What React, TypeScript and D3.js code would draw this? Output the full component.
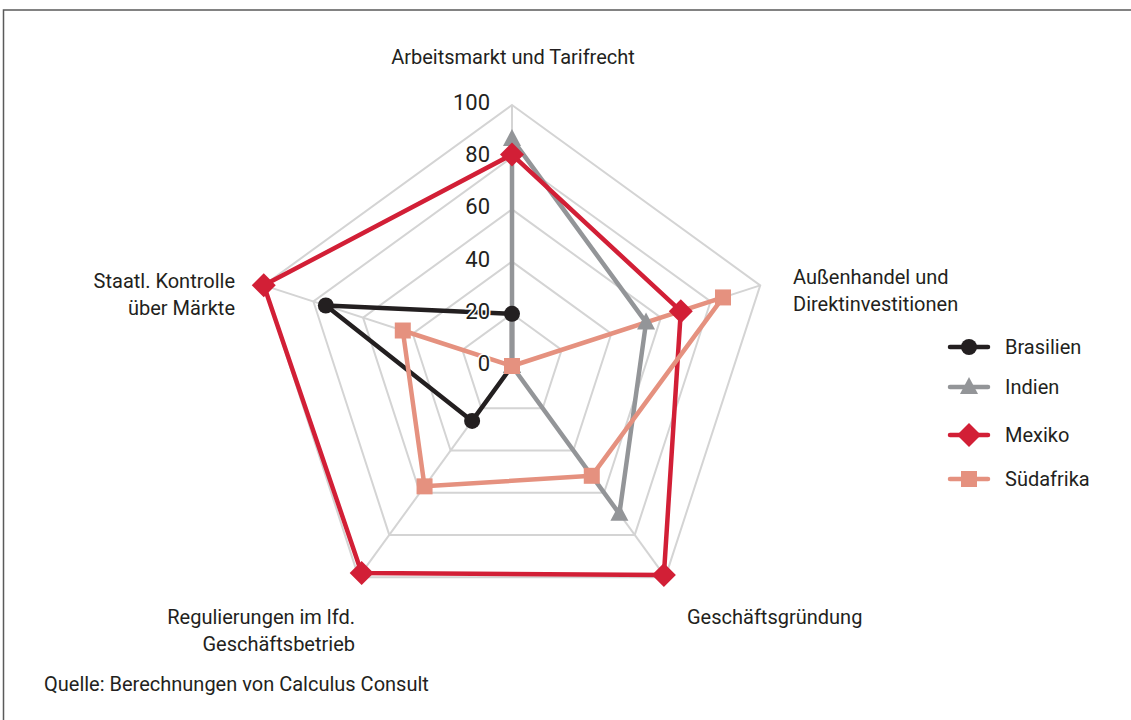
import React from 'react';
import * as d3 from 'd3';

const axes: string[][] = [
  ['Arbeitsmarkt und Tarifrecht'],
  ['Außenhandel und', 'Direktinvestitionen'],
  ['Geschäftsgründung'],
  ['Regulierungen im lfd.', 'Geschäftsbetrieb'],
  ['Staatl. Kontrolle', 'über Märkte'],
];

const seriesNames = ['Brasilien', 'Indien', 'Mexiko', 'Südafrika'];
const brasilien = [20, 0, 0, 26, 75];
const indien = [87, 54, 70, 0, 0];
const mexiko = [81, 68, 99, 98, 100];
const suedafrika = [0, 85, 52, 57, 44];
const ticks = [0, 20, 40, 60, 80, 100];

const colors = ['#231f20', '#939598', '#d21f36', '#e5917f'];
const shapes = ['circle', 'triangle', 'diamond', 'square'];

const W = 1131;
const H = 720;
const cx = 512;
const cy = 366;
const R = 261;
const FONT = 'Roboto, "Liberation Sans", sans-serif';

const r = d3.scaleLinear().domain([0, 100]).range([0, R]);
const angle = d3.scalePoint<number>().domain(d3.range(axes.length)).range([0, (2 * Math.PI * (axes.length - 1)) / axes.length]);

const pt = (i: number, v: number): [number, number] => {
  const a = angle(i)!;
  return [cx + r(v) * Math.sin(a), cy - r(v) * Math.cos(a)];
};

const Marker: React.FC<{ shape: string; x: number; y: number; color: string }> = ({ shape, x, y, color }) => {
  if (shape === 'circle') return <circle cx={x} cy={y} r={8} fill={color} />;
  if (shape === 'square') return <rect x={x - 8} y={y - 8} width={16} height={16} fill={color} />;
  if (shape === 'diamond')
    return <path d={`M${x},${y - 12}L${x + 12},${y}L${x},${y + 12}L${x - 12},${y}Z`} fill={color} />;
  return <path d={`M${x},${y - 10}L${x + 9},${y + 7}L${x - 9},${y + 7}Z`} fill={color} />;
};

const App: React.FC = () => {
  const data = [brasilien, indien, mexiko, suedafrika];
  const radial = d3
    .lineRadial<number>()
    .angle((_, i) => angle(i)!)
    .radius((d) => r(d))
    .curve(d3.curveLinearClosed);
  const ring = (v: number) => axes.map((_, i) => pt(i, v).join(',')).join(' ');

  const labelPos: { x: number; y: number; anchor: string }[] = [
    { x: 513, y: 64, anchor: 'middle' },
    { x: 793, y: 284, anchor: 'start' },
    { x: 687, y: 624, anchor: 'start' },
    { x: 355, y: 624, anchor: 'end' },
    { x: 235, y: 288, anchor: 'end' },
  ];
  const legendY = [347, 387, 435, 479];

  return (
    <svg width={W} height={H} style={{ position: 'absolute', left: 0, top: 0, background: '#fff' }} fontFamily={FONT}>
      <rect x={3.5} y={10} width={W + 10} height={H + 10} fill="none" stroke="#5a5a5a" strokeWidth={1.5} />
      <g>
        {ticks.slice(1).map((t) => (
          <polygon key={t} points={ring(t)} fill="none" stroke="#d4d4d4" strokeWidth={2} />
        ))}
        {axes.map((_, i) => {
          const [x, y] = pt(i, 100);
          return <line key={i} x1={cx} y1={cy} x2={x} y2={y} stroke="#d4d4d4" strokeWidth={2} />;
        })}
      </g>
      <g transform={`translate(${cx},${cy})`}>
        {data.map((d, s) => (
          <path key={s} d={radial(d) || ''} fill="none" stroke={colors[s]} strokeWidth={4.5} strokeLinejoin="round" />
        ))}
      </g>
      {data.map((d, s) => (
        <g key={s}>
          {d.map((v, i) => {
            const [x, y] = pt(i, v);
            return <Marker key={i} shape={shapes[s]} x={x} y={y} color={colors[s]} />;
          })}
        </g>
      ))}
      {ticks.map((t) => (
        <text
          key={t}
          x={490}
          y={cy - r(t) + 5}
          textAnchor="end"
          fontSize={22}
          fill="#231f20"
          stroke="#fff"
          strokeWidth={3}
          paintOrder="stroke"
        >
          {t}
        </text>
      ))}
      {axes.map((lines, i) => (
        <text key={i} x={labelPos[i].x} y={labelPos[i].y} textAnchor={labelPos[i].anchor} fontSize={20} fill="#231f20">
          {lines.map((l, j) => (
            <tspan key={j} x={labelPos[i].x} dy={j === 0 ? 0 : 27}>
              {l}
            </tspan>
          ))}
        </text>
      ))}
      {seriesNames.map((n, s) => (
        <g key={n} transform={`translate(0,${legendY[s]})`}>
          <line x1={950} x2={988} y1={0} y2={0} stroke={colors[s]} strokeWidth={4.5} strokeLinecap="round" />
          <Marker shape={shapes[s]} x={969} y={0} color={colors[s]} />
          <text x={1005} y={7} fontSize={20} fill="#231f20">
            {n}
          </text>
        </g>
      ))}
      <text x={44} y={691} fontSize={20} fill="#231f20">
        Quelle: Berechnungen von Calculus Consult
      </text>
    </svg>
  );
};

export default App;
